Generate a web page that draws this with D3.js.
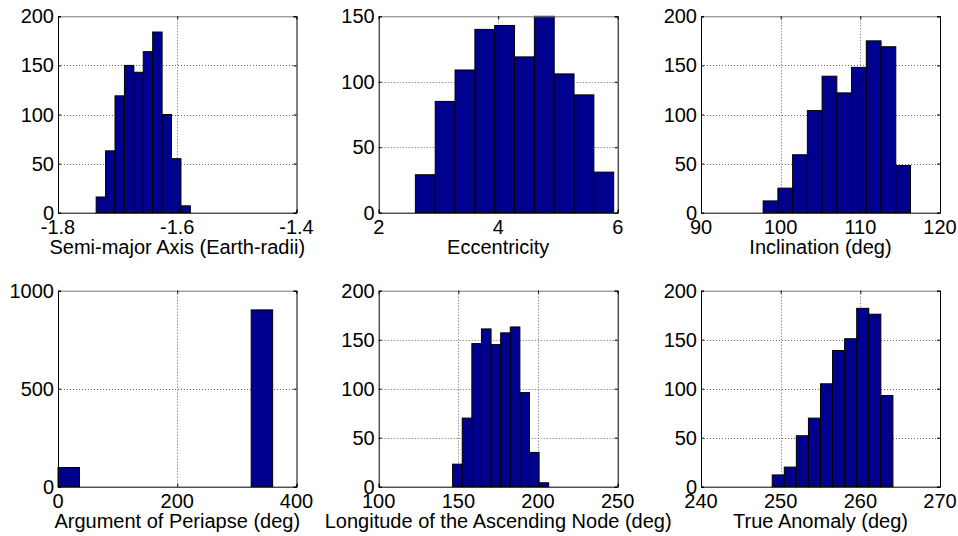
<!DOCTYPE html>
<html>
<head>
<meta charset="utf-8">
<script src="https://cdn.jsdelivr.net/npm/d3@7"></script>
<style>
  html, body { margin: 0; padding: 0; background: #fff; }
  svg { display: block; }
  text { font-family: "Liberation Sans", Arial, Helvetica, sans-serif; font-size: 20px; fill: #000; }
</style>
</head>
<body>
<svg id="chart" width="958" height="536"></svg>
<script>
// ---- Data ----
const labels = [
  "Semi-major Axis (Earth-radii)",
  "Eccentricity",
  "Inclination (deg)",
  "Argument of Periapse (deg)",
  "Longitude of the Ascending Node (deg)",
  "True Anomaly (deg)"
];

// histogram bin ranges [first edge, last edge] (10 equal bins each)
const semiMajorRange   = [-1.736, -1.578];
const eccentricityRange = [2.614, 5.933];
const inclinationRange = [97.8, 116.3];
const periapseRange    = [0, 360];
const ascNodeRange     = [146.4, 206.7];
const trueAnomalyRange = [248.94, 264.09];

// bin counts
const semiMajorCounts    = [16, 63, 119, 150, 143, 164, 184, 100, 55, 7];
const eccentricityCounts = [29, 85, 109, 140, 143, 119, 150, 106, 90, 31];
const inclinationCounts  = [12, 25, 59, 104, 139, 122, 148, 175, 169, 48];
const periapseCounts     = [98, 0, 0, 0, 0, 0, 0, 0, 0, 902];
const ascNodeCounts      = [23, 70, 146, 161, 145, 157, 163, 96, 35, 4];
const trueAnomalyCounts  = [12, 20, 52, 70, 105, 139, 151, 182, 176, 93];

// axis limits and tick values
const semiMajorXTicks    = [-1.8, -1.6, -1.4];
const eccentricityXTicks = [2, 4, 6];
const inclinationXTicks  = [90, 100, 110, 120];
const periapseXTicks     = [0, 200, 400];
const ascNodeXTicks      = [100, 150, 200, 250];
const trueAnomalyXTicks  = [240, 250, 260, 270];

const yTicks200  = [0, 50, 100, 150, 200];
const yTicks150  = [0, 50, 100, 150];
const yTicks1000 = [0, 500, 1000];

// ---- Layout (styling only) ----
const cols = [[58, 296.5], [378.7, 617.7], [701, 940]];
const rows = [[16.3, 212.7], [290.7, 486.7]];
const barFill = "#00008F";

const panels = [
  { range: semiMajorRange, counts: semiMajorCounts, xTicks: semiMajorXTicks, yTicks: yTicks200, label: labels[0] },
  { range: eccentricityRange, counts: eccentricityCounts, xTicks: eccentricityXTicks, yTicks: yTicks150, label: labels[1] },
  { range: inclinationRange, counts: inclinationCounts, xTicks: inclinationXTicks, yTicks: yTicks200, label: labels[2] },
  { range: periapseRange, counts: periapseCounts, xTicks: periapseXTicks, yTicks: yTicks1000, label: labels[3] },
  { range: ascNodeRange, counts: ascNodeCounts, xTicks: ascNodeXTicks, yTicks: yTicks200, label: labels[4] },
  { range: trueAnomalyRange, counts: trueAnomalyCounts, xTicks: trueAnomalyXTicks, yTicks: yTicks200, label: labels[5] }
];

const svg = d3.select("#chart");

panels.forEach((p, i) => {
  const [x0, x1] = cols[i % 3];
  const [y0, y1] = rows[Math.floor(i / 3)];
  const xs = d3.scaleLinear()
    .domain([p.xTicks[0], p.xTicks[p.xTicks.length - 1]])
    .range([x0, x1]);
  const ys = d3.scaleLinear()
    .domain([p.yTicks[0], p.yTicks[p.yTicks.length - 1]])
    .range([y1, y0]);

  const g = svg.append("g");

  // grid (interior ticks only)
  const gridStyle = (sel) => sel.attr("stroke", "#666").attr("stroke-width", 1)
    .attr("stroke-dasharray", "1,2").attr("fill", "none");
  g.selectAll(".gx").data(p.xTicks.slice(1, -1)).join("line")
    .attr("x1", d => Math.round(xs(d)) + 0.5).attr("x2", d => Math.round(xs(d)) + 0.5)
    .attr("y1", y0).attr("y2", y1).call(gridStyle);
  g.selectAll(".gy").data(p.yTicks.slice(1, -1)).join("line")
    .attr("y1", d => Math.round(ys(d)) + 0.5).attr("y2", d => Math.round(ys(d)) + 0.5)
    .attr("x1", x0).attr("x2", x1).call(gridStyle);

  // histogram bars
  const n = p.counts.length;
  const binW = (p.range[1] - p.range[0]) / n;
  const bins = p.counts.map((c, k) => ({
    a: p.range[0] + k * binW,
    b: p.range[0] + (k + 1) * binW,
    c
  })).filter(d => d.c > 0);
  g.selectAll("rect.bar").data(bins).join("rect")
    .attr("class", "bar")
    .attr("x", d => xs(d.a))
    .attr("width", d => xs(d.b) - xs(d.a))
    .attr("y", d => ys(d.c))
    .attr("height", d => ys(0) - ys(d.c))
    .attr("fill", barFill)
    .attr("stroke", "#000")
    .attr("stroke-width", 1);

  // axes with inward ticks
  const xAxisB = d3.axisBottom(xs).tickValues(p.xTicks).tickSize(-3).tickFormat("");
  const xAxisT = d3.axisTop(xs).tickValues(p.xTicks).tickSize(-3).tickFormat("");
  const yAxisL = d3.axisLeft(ys).tickValues(p.yTicks).tickSize(-3).tickFormat("");
  const yAxisR = d3.axisRight(ys).tickValues(p.yTicks).tickSize(-3).tickFormat("");
  const styleAxis = (sel, col) => {
    sel.select(".domain").attr("stroke", col).attr("stroke-width", 1);
    sel.selectAll(".tick line").attr("stroke", "#000");
  };
  g.append("g").attr("transform", `translate(0,${y1})`).call(xAxisB).call(s => styleAxis(s, "#000"));
  g.append("g").attr("transform", `translate(0,${y0})`).call(xAxisT).call(s => styleAxis(s, "#777"));
  g.append("g").attr("transform", `translate(${x0},0)`).call(yAxisL).call(s => styleAxis(s, "#000"));
  g.append("g").attr("transform", `translate(${x1},0)`).call(yAxisR).call(s => styleAxis(s, "#000"));

  // tick labels
  g.selectAll(".xl").data(p.xTicks).join("text")
    .attr("x", d => xs(d)).attr("y", y1 + 21)
    .attr("text-anchor", "middle")
    .text(d => d3.format("")(d).replace("−", "-"));
  g.selectAll(".yl").data(p.yTicks).join("text")
    .attr("x", x0 - 4).attr("y", d => ys(d))
    .attr("dy", "0.35em")
    .attr("text-anchor", "end")
    .text(d => d);

  // axis label
  g.append("text")
    .attr("x", (x0 + x1) / 2).attr("y", y1 + 41.5)
    .attr("text-anchor", "middle")
    .text(p.label);
});
</script>
</body>
</html>
